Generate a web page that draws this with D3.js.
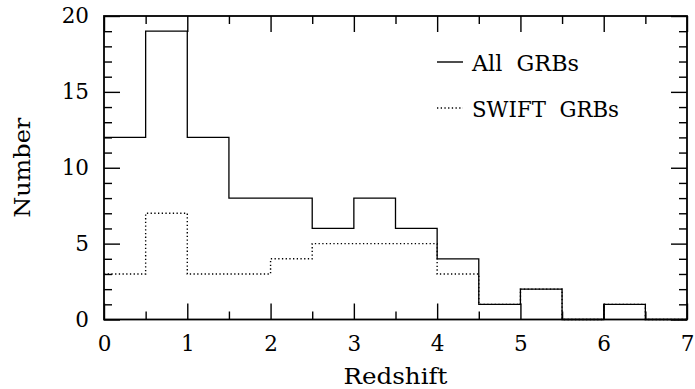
<!DOCTYPE html>
<html><head><meta charset="utf-8">
<script src="https://cdn.jsdelivr.net/npm/d3@7"></script>
<style>body{margin:0;background:#fff}svg{display:block}text{font-family:"DejaVu Serif",serif;fill:#000}</style>
</head><body><svg id="c" width="695" height="389"></svg>
<script>
const binEdges = [0,0.5,1,1.5,2,2.5,3,3.5,4,4.5,5,5.5,6,6.5,7];
const allGRBs   = [12,19,12,8,8,6,8,6,4,1,2,0,1,0];
const swiftGRBs = [3,7,3,3,4,5,5,5,3,1,2,0,1,0];
const xTicks = [0,1,2,3,4,5,6,7];
const yTicks = [0,5,10,15,20];
const legendLabels = ["All  GRBs","SWIFT  GRBs"];

const svg = d3.select("#c");
const L=104, R=687, T=16, B=319.5;
const x = d3.scaleLinear().domain([0,7]).range([L,R]);
const y = d3.scaleLinear().domain([0,20]).range([B,T]);

const xMinor = d3.range(0,7.01,0.5).filter(v=>v%1!==0);
const yMinor = d3.range(0,20.01,1).filter(v=>v%5!==0);

function ax(gen, transform, values, size, pad){
  const g = svg.append("g").attr("transform",transform)
    .call(gen.tickValues(values).tickSizeInner(size).tickSizeOuter(0).tickPadding(pad||0)
      .tickFormat(pad?d3.format("d"):()=>""));
  g.select(".domain").remove();
  g.selectAll(".tick line").attr("stroke","#000").attr("stroke-width",1.4);
  g.selectAll("text").style("font-size","21.5px").attr("font-family","DejaVu Serif");
  return g;
}
ax(d3.axisBottom(x), `translate(0,${B})`, xTicks, -16, 16);
ax(d3.axisBottom(x), `translate(0,${B})`, xMinor, -8, 0);
ax(d3.axisTop(x), `translate(0,${T})`, xTicks, -16, 0);
ax(d3.axisTop(x), `translate(0,${T})`, xMinor, -8, 0);
ax(d3.axisLeft(y), `translate(${L},0)`, yTicks, -16, 15);
ax(d3.axisLeft(y), `translate(${L},0)`, yMinor, -8, 0);
ax(d3.axisRight(y), `translate(${R},0)`, yTicks, -16, 0);
ax(d3.axisRight(y), `translate(${R},0)`, yMinor, -8, 0);

svg.append("rect").attr("x",L).attr("y",T).attr("width",R-L).attr("height",B-T)
  .attr("fill","none").attr("stroke","#000").attr("stroke-width",1.8);

function stepPts(vals){
  const pts = vals.map((v,i)=>[binEdges[i],v]);
  pts.push([binEdges[binEdges.length-1], 0]);
  return pts;
}
const line = d3.line().x(d=>x(d[0])).y(d=>y(d[1])).curve(d3.curveStepAfter);
svg.append("path").attr("d",line(stepPts(swiftGRBs))).attr("fill","none")
  .attr("stroke","#000").attr("stroke-width",1.4).attr("stroke-dasharray","1.3,2.4");
svg.append("path").attr("d",line(stepPts(allGRBs))).attr("fill","none")
  .attr("stroke","#000").attr("stroke-width",1.3);

// legend
const leg = [{t:legendLabels[0],dash:null,y:62,w:107},{t:legendLabels[1],dash:"1.3,2.4",y:108,w:147}];
leg.forEach(d=>{
  svg.append("line").attr("x1",437).attr("x2",463).attr("y1",d.y).attr("y2",d.y)
    .attr("stroke","#000").attr("stroke-width",1.4).attr("stroke-dasharray",d.dash);
  svg.append("text").attr("x",472).attr("y",d.y+8.5).style("font-size","21.5px")
    .attr("xml:space","preserve").style("white-space","pre")
    .attr("textLength",d.w).attr("lengthAdjust","spacingAndGlyphs").text(d.t);
});

svg.append("text").attr("x",(L+R)/2).attr("y",384).attr("text-anchor","middle")
  .style("font-size","22px").attr("textLength",104).attr("lengthAdjust","spacingAndGlyphs").text("Redshift");
svg.append("text").attr("transform",`translate(30,${(T+B)/2}) rotate(-90)`)
  .attr("text-anchor","middle").style("font-size","22px")
  .attr("textLength",100).attr("lengthAdjust","spacingAndGlyphs").text("Number");
</script></body></html>
